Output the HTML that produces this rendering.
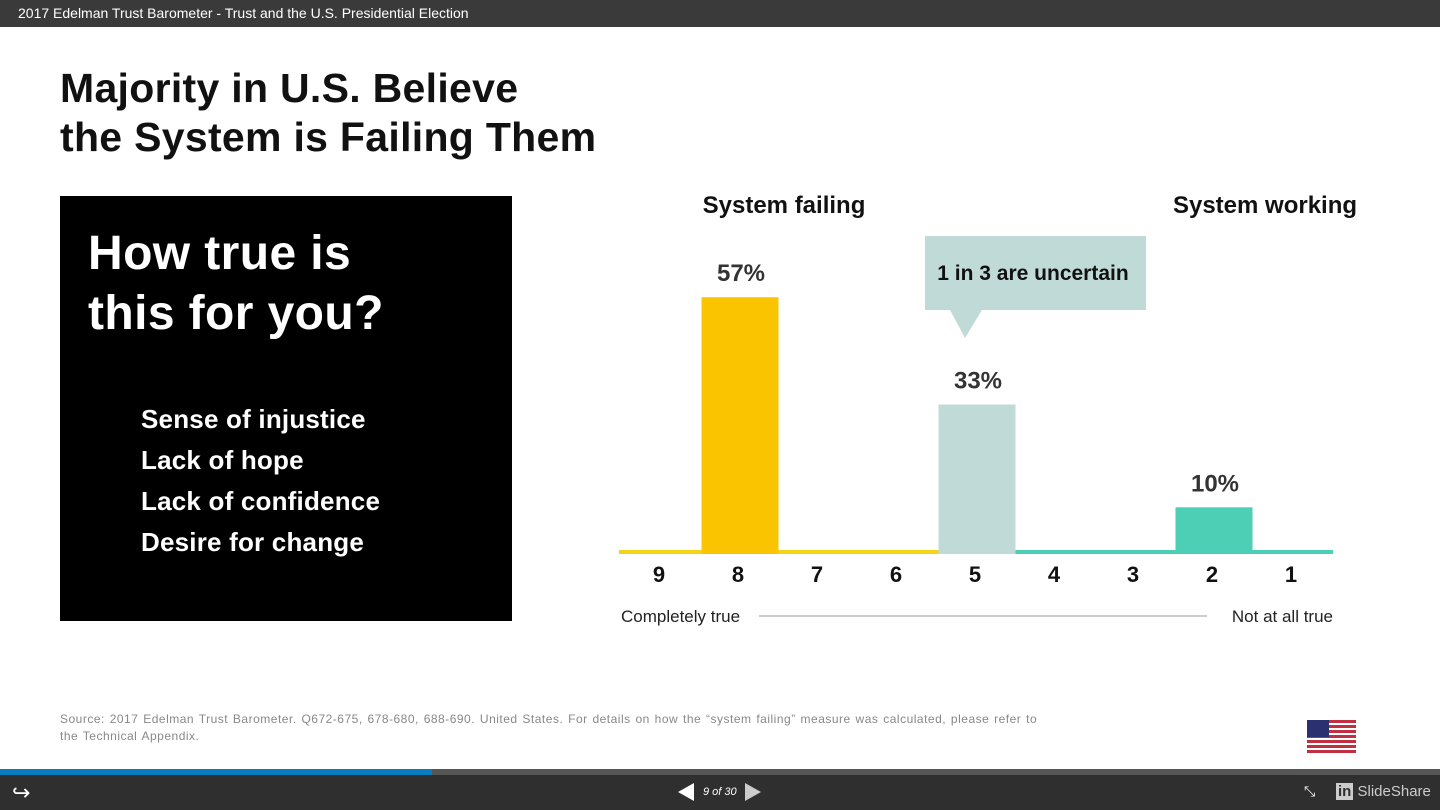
<!DOCTYPE html>
<html><head><meta charset="utf-8"><style>
body{margin:0;width:1440px;height:810px;overflow:hidden;background:#fff;font-family:"Liberation Sans",Arial,sans-serif;position:relative}
.abs{position:absolute}
</style></head><body>
<div class="abs" style="left:0;top:0;width:1440px;height:27px;background:#3a3a3a;color:#fff;font-size:14px;line-height:26px;padding-left:18px;box-sizing:border-box">2017 Edelman Trust Barometer - Trust and the U.S. Presidential Election</div>
<div class="abs" style="left:60px;top:64px;font-size:41px;font-weight:bold;line-height:49px;color:#111;letter-spacing:0.3px">Majority in U.S. Believe<br>the System is Failing Them</div>
<div class="abs" style="left:60px;top:196px;width:452px;height:425px;background:#000;color:#fff">
 <div style="position:absolute;left:28px;top:28px;font-size:48px;font-weight:bold;line-height:60px;letter-spacing:0.4px">How true is<br>this for you?</div>
 <div style="position:absolute;left:81px;top:203px;font-size:26px;font-weight:bold;line-height:41px;letter-spacing:0.2px">Sense of injustice<br>Lack of hope<br>Lack of confidence<br>Desire for change</div>
</div>
<svg class="abs" style="left:0;top:0" width="1440" height="810" id="chart"></svg>
<div class="abs" style="left:60px;top:711px;font-size:12px;color:#888;line-height:17px;letter-spacing:0.5px;word-spacing:1px;white-space:nowrap">Source: 2017 Edelman Trust Barometer. Q672-675, 678-680, 688-690. United States. For details on how the “system failing” measure was calculated, please refer to<br>the Technical Appendix.</div>
<div class="abs" style="left:1307px;top:720px;width:49px;height:33px;background:repeating-linear-gradient(#c03040 0 3px,#fff 3px 5px)"><div style="width:22px;height:17px;background:#2a3070"></div></div>
<div class="abs" style="left:0;top:769px;width:1440px;height:6px;background:#555"><div style="width:432px;height:6px;background:#0b7bbf"></div></div>
<div class="abs" style="left:0;top:775px;width:1440px;height:35px;background:#2f2f2f;color:#fff">
 <div style="position:absolute;left:12px;top:5px;font-size:22px">↪</div>
 <div style="position:absolute;left:678px;top:8px;width:0;height:0;border-top:9px solid transparent;border-bottom:9px solid transparent;border-right:16px solid #fff"></div>
 <div style="position:absolute;left:703px;top:11px;font-size:11px;font-style:italic">9 of 30</div>
 <div style="position:absolute;left:745px;top:8px;width:0;height:0;border-top:9px solid transparent;border-bottom:9px solid transparent;border-left:16px solid #ccc"></div>
 <div style="position:absolute;left:1304px;top:8px;font-size:14px">⤡</div>
 <div style="position:absolute;left:1336px;top:8px;font-size:15px;color:#ccc"><span style="background:#ccc;color:#2f2f2f;font-weight:bold;padding:0 2px">in</span> SlideShare</div>
</div>
<script>
const categories=["9","8","7","6","5","4","3","2","1"];
const values=[0,57,0,0,33,0,0,10,0];
const labels=["","57%","","","33%","","","10%",""];
const colors=["#f5c400","#fbc400","#f5c400","#f5c400","#c0dbd7","#4ccfb4","#4ccfb4","#4ccfb4","#4ccfb4"];
const svg=document.getElementById('chart');
const NS='http://www.w3.org/2000/svg';
const x0=661,step=79,base=552,k=4.47,bw=77;
const xs=i=>x0+i*step, ys=v=>base-v*k;
function mk(t,a,txt){const e=document.createElementNS(NS,t);for(const n in a)e.setAttribute(n,a[n]);if(txt!=null)e.textContent=txt;svg.appendChild(e);return e;}
let l=mk('rect',{x:619,y:550,width:xs(4)-bw/2-619,height:4,fill:'#f5d31a'});


l=mk('rect',{x:xs(4)+bw/2,y:550,width:1333-xs(4)-bw/2,height:4,fill:'#4ccfb4'});


categories.forEach((c,i)=>{
 if(values[i]>0){
  const r=mk('rect',{x:xs(i)-bw/2,y:ys(values[i]),width:bw,height:values[i]*k+2,fill:colors[i]});
  
  
  const t=mk('text',{x:xs(i)+1,y:ys(values[i])-16,'text-anchor':'middle','font-size':24,'font-weight':'bold',fill:'#333'},labels[i]);
  
  
 }
 const t=mk('text',{x:xs(i)-2,y:582,'text-anchor':'middle','font-size':22,'font-weight':'bold',fill:'#111'},c);
 
 
});
let e=mk('text',{x:784,y:213,'text-anchor':'middle','font-size':24,'font-weight':'bold',fill:'#111'},'System failing');


e=mk('text',{x:1265,y:213,'text-anchor':'middle','font-size':24,'font-weight':'bold',fill:'#111'},'System working');


e=mk('path',{d:'M925 236H1146V310H982L965 338L950 310H925Z',fill:'#c0dbd7'});


e=mk('text',{x:1033,y:280,'text-anchor':'middle','font-size':21,'font-weight':'bold',fill:'#111'},'1 in 3 are uncertain');


e=mk('text',{x:621,y:622,'font-size':17,fill:'#222'},'Completely true');


e=mk('text',{x:1333,y:622,'text-anchor':'end','font-size':17,fill:'#222'},'Not at all true');


e=mk('line',{x1:759,y1:616,x2:1207,y2:616,stroke:'#bbb','stroke-width':1.5});


</script>
</body></html>
